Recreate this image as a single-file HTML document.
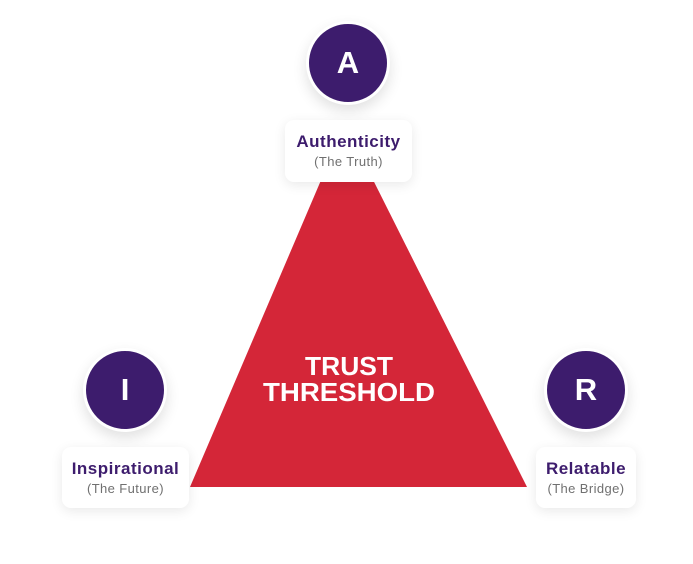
<!DOCTYPE html>
<html><head><style>
body{margin:0;width:693px;height:564px;background:#fff;position:relative;overflow:hidden;font-family:"Liberation Sans",sans-serif}
.c{position:absolute;width:78px;height:78px;border-radius:50%;background:#3d1c6d;border:3px solid #fff;box-shadow:0 6px 14px rgba(0,0,0,.12);color:#fff;font-weight:bold;font-size:31px;display:flex;align-items:center;justify-content:center}
.b{position:absolute;background:#fff;border-radius:9px;box-shadow:0 3px 12px rgba(0,0,0,.09);text-align:center}
.t{color:#3d1c6d;font-weight:bold;font-size:17px;letter-spacing:.5px;margin-top:12px;line-height:20px}
.s{color:#707070;font-size:13px;letter-spacing:.4px;line-height:16px;margin-top:2px}
</style></head><body>
<svg width="693" height="564" style="position:absolute;left:0;top:0">
<polygon points="345,124 190,487 527,487" fill="#d42638"/>
<text x="349" y="375" text-anchor="middle" fill="#fff" font-family="Liberation Sans" font-weight="bold" font-size="26" textLength="88" lengthAdjust="spacingAndGlyphs">TRUST</text>
<text x="349" y="401" text-anchor="middle" fill="#fff" font-family="Liberation Sans" font-weight="bold" font-size="26" textLength="172" lengthAdjust="spacingAndGlyphs">THRESHOLD</text>
</svg>
<div class="c" style="left:306px;top:21px">A</div>
<div class="c" style="left:83px;top:348px">I</div>
<div class="c" style="left:544px;top:348px">R</div>
<div class="b" style="left:285px;top:120px;width:127px;height:62px"><div class="t">Authenticity</div><div class="s">(The Truth)</div></div>
<div class="b" style="left:62px;top:447px;width:127px;height:61px"><div class="t">Inspirational</div><div class="s">(The Future)</div></div>
<div class="b" style="left:536px;top:447px;width:100px;height:61px"><div class="t">Relatable</div><div class="s">(The Bridge)</div></div>
</body></html>
